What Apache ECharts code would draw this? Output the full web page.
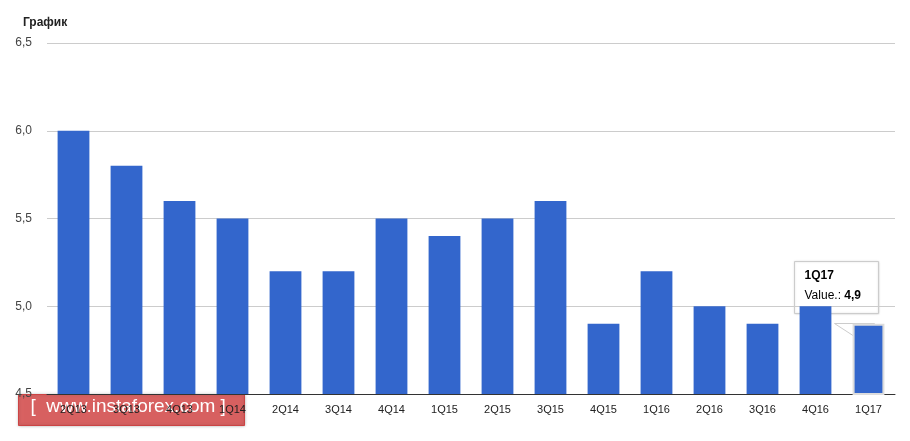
<!DOCTYPE html><html><head><meta charset="utf-8"><script src="https://cdn.jsdelivr.net/npm/echarts@6/dist/echarts.min.js"></script></head><body style="margin:0"><div id="c" style="width:910px;height:441px"></div><script>
const categories=['2Q13','3Q13','4Q13','1Q14','2Q14','3Q14','4Q14','1Q15','2Q15','3Q15','4Q15','1Q16','2Q16','3Q16','4Q16','1Q17'];
const values=[6.0,5.8,5.6,5.5,5.2,5.2,5.5,5.4,5.5,5.6,4.9,5.2,5.0,4.9,5.0,4.9];
const yTicks=[4.5,5.0,5.5,6.0,6.5];
const c=echarts.init(document.getElementById('c'));
c.setOption({animation:false,
title:{text:'График',left:18,top:12,textStyle:{fontSize:12,fontWeight:'bold',color:'#222',fontFamily:'Arial'}},
grid:{left:47,right:15,top:43,bottom:47},
xAxis:{type:'category',data:categories,axisTick:{show:false},axisLine:{lineStyle:{color:'#333'}},axisLabel:{color:'#222',fontSize:11,fontFamily:'Arial',margin:10}},
yAxis:{type:'value',min:4.5,max:6.5,interval:0.5,axisLabel:{color:'#444',fontSize:12,fontFamily:'Arial',margin:15,formatter:v=>v.toFixed(1).replace('.',',')},splitLine:{lineStyle:{color:'#ccc'}}},
series:[{type:'bar',barWidth:'60%',itemStyle:{color:'#3366cc'},data:values.map((v,i)=>i===values.length-1?{value:v,itemStyle:{borderColor:'#ddd',borderWidth:2}}:v)}],
graphic:[
{type:'group',left:18,top:394,children:[
{type:'rect',shape:{width:226,height:31},style:{fill:'rgba(220,80,80,0.85)',stroke:'#c44',shadowBlur:3,shadowColor:'rgba(0,0,0,0.3)'}},
{type:'text',left:12,top:3,style:{text:'[  www.instaforex.com ]',fill:'#fff',fontSize:19,fontFamily:'Arial'}}]},
{type:'group',left:794,top:261,children:[
{type:'polygon',shape:{points:[[40,62],[80,62],[60,75]]},style:{fill:'#fff',stroke:'#ccc'}},
{type:'rect',shape:{width:84,height:52},style:{fill:'#fff',stroke:'#ccc',shadowBlur:2,shadowColor:'rgba(0,0,0,0.15)'}},
{type:'text',left:10,top:8,style:{text:'1Q17',fontSize:12,fontWeight:'bold',fill:'#000',fontFamily:'Arial'}},
{type:'text',left:10,top:28,style:{rich:{a:{fontSize:12,fill:'#000',fontFamily:'Arial'},b:{fontSize:12,fontWeight:'bold',fill:'#000',fontFamily:'Arial'}},text:'{a|Value.: }{b|4,9}'}}]}
]});
</script></body></html>
